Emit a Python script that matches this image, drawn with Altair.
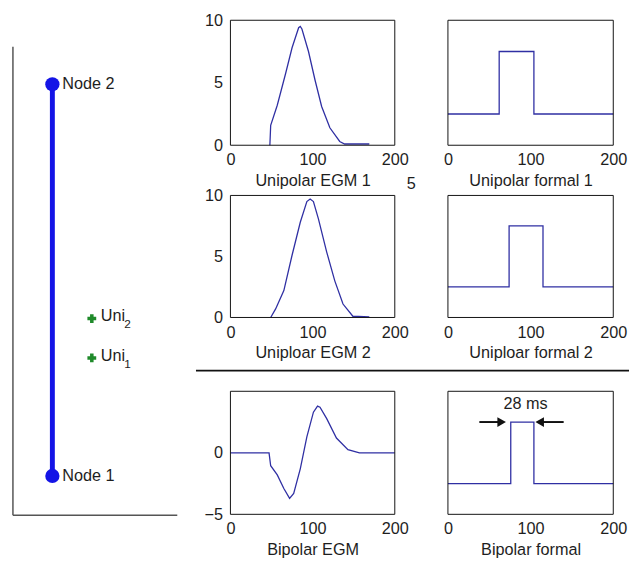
import altair as alt
import pandas as pd

FONT = "Liberation Sans"
FS = 16.5
TXT = "#1e1e1e"
LINE = "#2f2fa3"

# ---------------- data ----------------
egm1_t = [48, 49, 57, 67, 75, 83, 85, 87, 95, 103, 111, 121, 133, 139, 169]
egm1_v = [0, 1.6, 3.2, 5.7, 7.8, 9.4, 9.5, 9.3, 7.5, 5.2, 3.1, 1.4, 0.3, 0.1, 0.1]
egm2_t = [49, 55, 65, 75, 85, 93, 97, 101, 107, 117, 127, 137, 149, 169]
egm2_v = [0, 0.7, 2.2, 5.1, 7.8, 9.5, 9.7, 9.5, 8.1, 5.4, 3.0, 1.1, 0.1, 0.05]
bip_t = [0, 47, 49, 57, 65, 72, 77, 85, 93, 101, 106, 109, 117, 129, 143, 157, 200]
bip_v = [0, 0, -1.05, -1.8, -2.9, -3.7, -3.3, -1.3, 1.3, 3.3, 3.8, 3.7, 2.8, 1.2, 0.26, 0, 0]
f1_t = [0, 62, 62, 104, 104, 200]
f1_v = [0, 0, 2, 2, 0, 0]
f2_t = [0, 74, 74, 115, 115, 200]
f2_v = [0, 0, 2, 2, 0, 0]
fb_t = [0, 76, 76, 104, 104, 200]
fb_v = [0, 0, 2, 2, 0, 0]

titles = ["Unipolar EGM 1", "Unipolar formal 1", "Uniploar EGM 2",
          "Uniploar formal 2", "Bipolar EGM", "Bipolar formal"]
x_ticks = [0, 100, 200]

node_names = ["Node 2", "Node 1"]
node_x = [2.4, 2.4]
node_y = [9.2, 0.84]
uni_main = ["Uni", "Uni"]
uni_sub = ["2", "1"]
uni_x = [4.8, 4.8]
uni_y = [4.2, 3.36]

width_label = ["28 ms"]
label_x = [94]
label_y = [2.58]
arrow_x1 = [38, 140]
arrow_x2 = [66, 110]
arrow_y = [2, 2]
head_r_x = [65]
head_l_x = [111]
stray_label = ["5"]
stray_x = [220]
stray_y = [-3.1]


def line_df(t, v):
    return pd.DataFrame({"t": t, "v": v, "i": list(range(len(t)))})


def x_axis(title):
    return alt.Axis(values=x_ticks, title=title, ticks=False, domain=False, grid=False,
                    labelFlush=False, labelOverlap=False, labelPadding=7, titlePadding=4,
                    labelFont=FONT, labelFontSize=FS, labelColor=TXT,
                    titleFont=FONT, titleFontSize=FS, titleFontWeight="normal", titleColor=TXT)


def y_axis(vals):
    return alt.Axis(values=vals, title=None, ticks=False, domain=False, grid=False,
                    labelPadding=8, labelFont=FONT, labelFontSize=FS, labelColor=TXT)


def panel(t, v, title, ydom, yvals, frame_lo, frame_hi, w, h, extra=None):
    xs = alt.Scale(domain=[0, 200], nice=False, zero=False)
    ys = alt.Scale(domain=ydom, nice=False, zero=False)
    if yvals is not None:
        yenc = alt.Y("v:Q", scale=ys, axis=y_axis(yvals))
    else:
        yenc = alt.Y("v:Q", scale=ys, axis=None)
    ln = alt.Chart(line_df(t, v)).mark_line(color=LINE, strokeWidth=1.3).encode(
        x=alt.X("t:Q", scale=xs, axis=x_axis(title)),
        y=yenc,
        order="i:Q",
    )
    fdf = pd.DataFrame({"t": [0], "t2": [200], "v": [frame_lo], "v2": [frame_hi]})
    frame = alt.Chart(fdf).mark_rect(fillOpacity=0, stroke="#111", strokeWidth=1).encode(
        x="t:Q", x2="t2:Q", y="v:Q", y2="v2:Q"
    )
    layers = [ln, frame] + (extra or [])
    return alt.layer(*layers).properties(width=w, height=h)


W1, W2 = 167, 168
H1, H2, H3 = 127, 124, 149
ext = 24 / 125  # extra headroom fraction in bottom row

stray = alt.Chart(pd.DataFrame({"t": stray_x, "v": stray_y, "s": stray_label})).mark_text(
    font=FONT, fontSize=FS, color=TXT).encode(x="t:Q", y="v:Q", text="s:N")

p1 = panel(egm1_t, egm1_v, titles[0], [0, 10], [0, 5, 10], 0, 10, W1, H1, [stray])
p2 = panel(f1_t, f1_v, titles[1], [-1, 3], None, -1, 3, W2, H1)
p3 = panel(egm2_t, egm2_v, titles[2], [0, 10], [0, 5, 10], 0, 10, W1, H2)
p4 = panel(f2_t, f2_v, titles[3], [-1, 3], None, -1, 3, W2, H2)

sep = alt.Chart(pd.DataFrame({"k": [0]})).mark_rule(color="#111", strokeWidth=2).encode(
    x=alt.value(-35), x2=alt.value(405), y=alt.value(3))
p5 = panel(bip_t, bip_v, titles[4], [-5, 5 + 10 * ext], [-5, 0], -5, 5, W1, H3, [sep])

arr_df = pd.DataFrame({"t": arrow_x1, "t2": arrow_x2, "v": arrow_y})
arrows = alt.Chart(arr_df).mark_rule(color="#111", strokeWidth=2).encode(
    x="t:Q", x2="t2:Q", y="v:Q")
head_r = alt.Chart(pd.DataFrame({"t": head_r_x, "v": [2]})).mark_point(
    filled=True, color="#111", size=100, opacity=1, shape="triangle-right").encode(x="t:Q", y="v:Q")
head_l = alt.Chart(pd.DataFrame({"t": head_l_x, "v": [2]})).mark_point(
    filled=True, color="#111", size=100, opacity=1, shape="triangle-left").encode(x="t:Q", y="v:Q")
lab = alt.Chart(pd.DataFrame({"t": label_x, "v": label_y, "s": width_label})).mark_text(
    font=FONT, fontSize=FS, color=TXT).encode(x="t:Q", y="v:Q", text="s:N")
p6 = panel(fb_t, fb_v, titles[5], [-1, 3 + 4 * ext], None, -1, 3, W2, H3,
           [arrows, head_r, head_l, lab])

grid = alt.concat(p1, p2, p3, p4, p5, p6, columns=2,
                  spacing={"row": 51, "column": 54}, bounds="flush")

# ---------------- left schematic ----------------
lx = alt.Scale(domain=[-0.3, 10], nice=False, zero=False)
ly = alt.Scale(domain=[-0.147, 10.567], nice=False, zero=False)
ax_df = pd.DataFrame({"x": [0, 0], "y": [0, 0], "x2": [0, 10], "y2": [10, 0]})
left_axes = alt.Chart(ax_df).mark_rule(color="#555", strokeWidth=1.5).encode(
    x=alt.X("x:Q", scale=lx, axis=None), y=alt.Y("y:Q", scale=ly, axis=None),
    x2="x2:Q", y2="y2:Q")
node_df = pd.DataFrame({"x": node_x, "y": node_y, "name": node_names})
electrode = alt.Chart(node_df).mark_line(color="#1414e6", strokeWidth=5).encode(
    x=alt.X("x:Q", scale=lx, axis=None), y=alt.Y("y:Q", scale=ly, axis=None))
nodes = alt.Chart(node_df).mark_point(filled=True, shape="circle", size=210,
                                       color="#1414e6", opacity=1).encode(
    x=alt.X("x:Q", scale=lx, axis=None), y=alt.Y("y:Q", scale=ly, axis=None))
node_txt = alt.Chart(node_df).mark_text(align="left", dx=10, font=FONT, fontSize=FS,
                                        color=TXT).encode(
    x=alt.X("x:Q", scale=lx, axis=None), y=alt.Y("y:Q", scale=ly, axis=None), text="name:N")
uni_df = pd.DataFrame({"x": uni_x, "y": uni_y, "m": uni_main, "s": uni_sub})
uni_pts = alt.Chart(uni_df).mark_point(filled=True, shape="cross", size=80,
                                       color="#1f8a2a", opacity=1).encode(
    x=alt.X("x:Q", scale=lx, axis=None), y=alt.Y("y:Q", scale=ly, axis=None))
uni_txt = alt.Chart(uni_df).mark_text(align="left", dx=9, dy=-2, font=FONT, fontSize=FS,
                                      color=TXT).encode(
    x=alt.X("x:Q", scale=lx, axis=None), y=alt.Y("y:Q", scale=ly, axis=None), text="m:N")
uni_subt = alt.Chart(uni_df).mark_text(align="left", dx=33, dy=6, font=FONT, fontSize=12,
                                       color=TXT).encode(
    x=alt.X("x:Q", scale=lx, axis=None), y=alt.Y("y:Q", scale=ly, axis=None), text="s:N")
left = alt.layer(left_axes, electrode, nodes, node_txt, uni_pts, uni_txt, uni_subt).properties(
    width=172, height=510)

chart = alt.hconcat(left, grid, spacing=17, bounds="full").properties(padding=0).configure_view(
    strokeWidth=0)

chart.save("out.html", embed_options={"renderer": "svg", "actions": False})
